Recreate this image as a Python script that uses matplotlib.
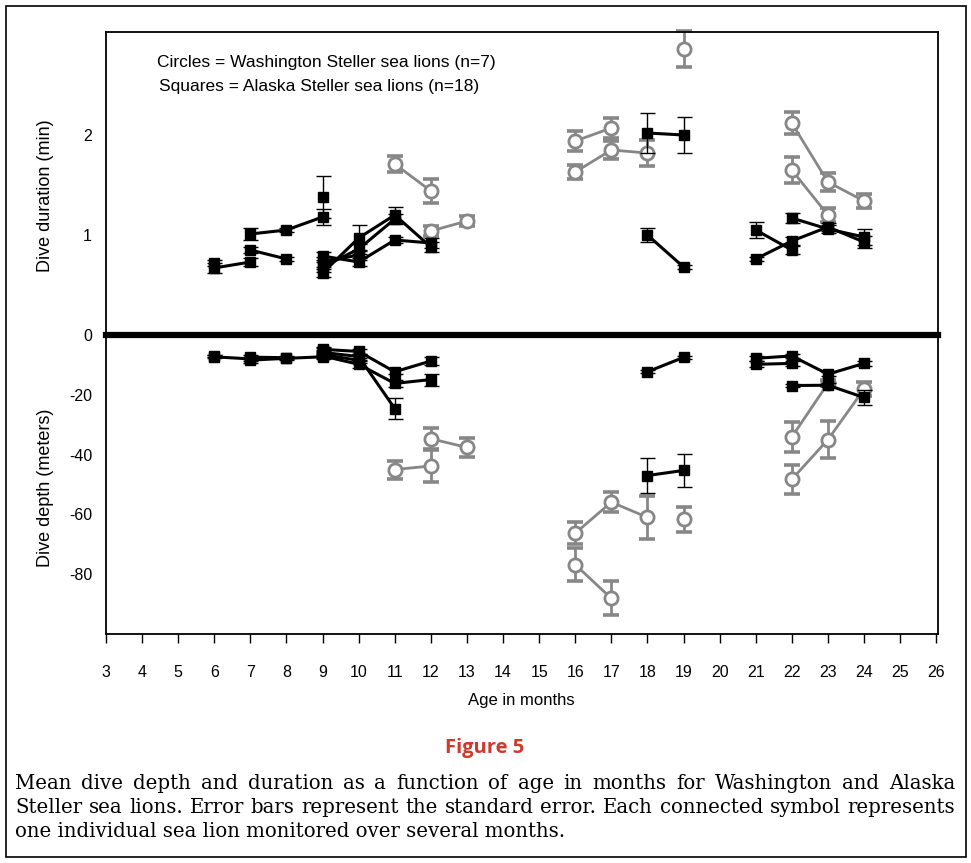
import matplotlib
matplotlib.use("Agg")
import matplotlib.pyplot as plt
from matplotlib.patches import Rectangle

# mean dive duration (min) per animal: (age months, means, standard errors)
wa_duration = [
    ([11, 12], [1.71, 1.44], [0.08, 0.12]),
    ([12, 13], [1.04, 1.14], [0.05, 0.05]),
    ([16, 17], [1.94, 2.07], [0.10, 0.10]),
    ([16, 17, 18], [1.63, 1.85, 1.82], [0.07, 0.09, 0.13]),
    ([19], [2.86], [0.18]),
    ([22, 23, 24], [2.12, 1.53, 1.34], [0.11, 0.09, 0.07]),
    ([22, 23], [1.65, 1.20], [0.13, 0.07]),
]
ak_duration = [
    ([6], [0.72], [0.03]),
    ([6, 7], [0.67, 0.73], [0.05, 0.04]),
    ([7, 8], [0.85, 0.76], [0.03, 0.02]),
    ([7, 8, 9], [1.01, 1.05, 1.18], [0.06, 0.02, 0.08]),
    ([9], [1.38], [0.21]),
    ([9, 10, 11, 12], [0.62, 0.97, 1.20, 0.88], [0.04, 0.13, 0.08, 0.05]),
    ([9, 10, 11], [0.68, 0.86, 1.16], [0.05, 0.05, 0.05]),
    ([9, 10, 11, 12], [0.79, 0.73, 0.95, 0.92], [0.04, 0.04, 0.03, 0.05]),
    ([9, 10], [0.73, 0.80], [0.05, 0.05]),
    ([18, 19], [2.02, 2.00], [0.20, 0.18]),
    ([18, 19], [1.00, 0.68], [0.07, 0.02]),
    ([21, 22], [1.05, 0.85], [0.08, 0.04]),
    ([21, 22, 23, 24], [0.76, 0.94, 1.08, 0.93], [0.02, 0.04, 0.04, 0.06]),
    ([22, 23, 24], [1.17, 1.06, 0.98], [0.05, 0.04, 0.08]),
]

# mean dive depth (m) per animal
wa_depth = [
    ([11, 12], [-45.0, -43.8], [3.0, 5.4]),
    ([12, 13], [-34.7, -37.6], [3.5, 3.2]),
    ([16, 17, 18], [-66.3, -55.9, -61.0], [3.7, 3.4, 7.2]),
    ([16, 17], [-76.8, -88.1], [5.6, 5.7]),
    ([19], [-61.7], [4.2]),
    ([22, 23, 24], [-48.3, -35.0, -18.1], [4.8, 6.3, 2.4]),
    ([22, 23], [-34.1, -16.2], [5.0, 1.0]),
]
ak_depth = [
    ([6], [-7.0], [0.4]),
    ([6, 7], [-7.3, -8.0], [0.5, 0.8]),
    ([7, 8], [-7.4, -7.6], [0.6, 0.5]),
    ([7, 8, 9], [-8.4, -7.8, -7.3], [0.8, 0.6, 0.6]),
    ([9], [-5.0], [0.8]),
    ([9, 10, 11, 12], [-4.8, -5.5, -12.3, -8.7], [0.7, 0.8, 0.8, 1.2]),
    ([9, 10, 11], [-5.8, -7.2, -24.6], [0.8, 1.0, 3.6]),
    ([9, 10, 11, 12], [-7.0, -9.8, -16.2, -14.9], [0.6, 1.2, 1.2, 2.0]),
    ([9, 10], [-6.5, -8.5], [0.6, 0.8]),
    ([18, 19], [-12.3, -7.5], [0.5, 0.4]),
    ([18, 19], [-47.0, -45.3], [5.8, 5.6]),
    ([21, 22], [-9.8, -9.5], [1.0, 0.8]),
    ([21, 22, 23, 24], [-7.8, -7.0, -13.1, -9.5], [0.8, 0.8, 0.6, 0.8]),
    ([22, 23, 24], [-16.9, -16.8, -20.9], [0.5, 0.6, 2.6]),
]

months = list(range(3, 27))
duration_ticks = [1, 2]
depth_ticks = [0, -20, -40, -60, -80]

caption_lines = [
    "Mean dive depth and duration as a function of age in months for Washington and Alaska",
    "Steller sea lions. Error bars represent the standard error. Each connected symbol represents",
    "one individual sea lion monitored over several months.",
]

GREY = "#878787"
W, H = 971, 863
plt.rcParams["font.family"] = ["Liberation Sans", "DejaVu Sans"]


def fx(px):
    return px / W


def fy(py):
    return 1 - py / H


def draw_tracks(ax, tracks, washington):
    for m, v, se in tracks:
        if washington:
            ax.errorbar(m, v, yerr=se, fmt="none", ecolor=GREY, elinewidth=2,
                        capsize=6, capthick=2.6, zorder=2, clip_on=False)
            ax.plot(m, v, "-o", color=GREY, lw=2, ms=9.5, mfc="white",
                    mec=GREY, mew=2, zorder=3, clip_on=False)
        else:
            ax.errorbar(m, v, yerr=se, fmt="none", ecolor="k", elinewidth=1,
                        capsize=5.4, capthick=1, zorder=4, clip_on=False)
            ax.plot(m, v, "-s", color="k", lw=2.2, ms=6.5, zorder=5, clip_on=False)


fig = plt.figure(figsize=(W / 100, H / 100), dpi=100)
ax_top = fig.add_axes([fx(106), fy(335), (938 - 106) / W, (335 - 32) / H])
ax_bot = fig.add_axes([fx(106), fy(634), (938 - 106) / W, (634 - 335) / H])

draw_tracks(ax_top, wa_duration, True)
draw_tracks(ax_top, ak_duration, False)
draw_tracks(ax_bot, wa_depth, True)
draw_tracks(ax_bot, ak_depth, False)

for ax in (ax_top, ax_bot):
    ax.set_xlim(3, 26.05)
    for s in ax.spines.values():
        s.set_linewidth(1.3)
    ax.tick_params(axis="y", length=0, pad=10, labelsize=11.5)

ax_top.set_ylim(0, 3.03)
ax_top.set_yticks(duration_ticks)
ax_top.set_yticklabels([str(t) for t in duration_ticks])
ax_top.spines["bottom"].set_visible(False)
ax_top.tick_params(axis="x", bottom=False, labelbottom=False)

ax_bot.set_ylim(-100, 0)
ax_bot.set_yticks(depth_ticks)
ax_bot.set_yticklabels([str(t) for t in depth_ticks])
ax_bot.spines["top"].set_linewidth(4.5)
ax_bot.set_xticks(months)
ax_bot.set_xticklabels([str(m) for m in months])
ax_bot.tick_params(axis="x", direction="out", length=6.5, width=1, pad=16, labelsize=11.5)

fig.text(fx(46), fy(196), "Dive duration (min)", rotation=90, ha="center", va="center", fontsize=13)
fig.text(fx(46), fy(488), "Dive depth (meters)", rotation=90, ha="center", va="center", fontsize=13)
fig.text(fx(521), fy(700), "Age in months", ha="center", va="center", fontsize=12)
fig.text(fx(157), fy(63), "Circles = Washington Steller sea lions (n=7)", ha="left", va="center", fontsize=12.5)
fig.text(fx(159), fy(87), "Squares = Alaska Steller sea lions (n=18)", ha="left", va="center", fontsize=12.5)

fig.text(fx(485), fy(748), "Figure 5", ha="center", va="center", fontsize=14.5,
         fontweight="bold", color="#cf3a2b", family=["Open Sans", "DejaVu Sans"])

# justified caption; font size chosen so the widest full line fits the text width
renderer = fig.canvas.get_renderer()
left, right = 15, 955
widest = 0
for line in caption_lines[:-1]:
    probe = fig.text(0, 0, line, fontsize=12, family="DejaVu Serif")
    widest = max(widest, probe.get_window_extent(renderer).width)
    probe.remove()
cap_size = 12 * (right - left) / widest * 0.99
cap_y = [783, 807, 831]
for i, line in enumerate(caption_lines):
    if i == len(caption_lines) - 1:
        fig.text(fx(left), fy(cap_y[i]), line, ha="left", va="center",
                 fontsize=cap_size, family="DejaVu Serif")
        continue
    words = line.split()
    texts = [fig.text(0, fy(cap_y[i]), w, ha="left", va="center", fontsize=cap_size,
                      family="DejaVu Serif") for w in words]
    widths = [t.get_window_extent(renderer).width for t in texts]
    gap = (right - left - sum(widths)) / (len(words) - 1)
    x = left
    for t, w in zip(texts, widths):
        t.set_x(fx(x))
        x += w + gap

fig.add_artist(Rectangle((fx(6), fy(857)), (966 - 6) / W, (857 - 6) / H,
                         transform=fig.transFigure, fill=False, lw=1.2, ec="k"))

fig.savefig("out.png", dpi=100)
